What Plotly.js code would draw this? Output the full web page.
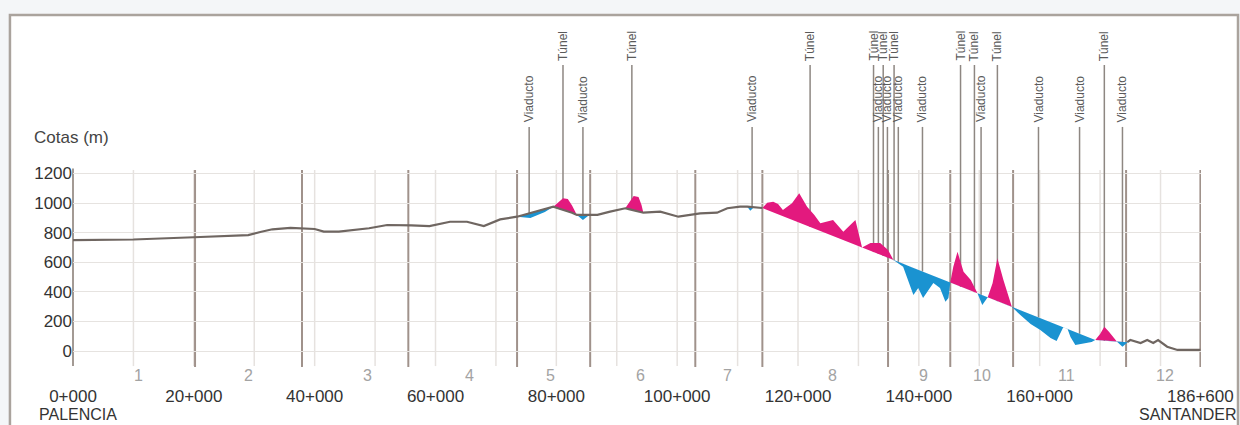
<!DOCTYPE html>
<html><head><meta charset="utf-8">
<script src="https://cdn.plot.ly/plotly-3.0.1.min.js"></script>
<style>html,body{margin:0;padding:0;background:#f4f6f8;} #chart{width:1240px;height:425px;}</style>
</head><body><div id="chart"></div>
<script>
// Chainage (km) of profile samples
const km = [0, 10, 20, 29, 31, 33, 36, 38, 40, 41.5, 44, 49, 52, 56, 59, 62.4, 65.2, 68, 70.7, 73.5, 75.7, 78.1, 79.5, 80.4, 81.1, 81.9, 82.6, 83.4, 84.4, 85.4, 86.8, 88.9, 90.6, 91.4, 92.0, 92.8, 93.6, 94.1, 94.4, 97.2, 100.2, 103.8, 106.6, 108.3, 110.4, 111.6, 112.1, 112.7, 113.4, 114.1, 114.9, 115.9, 116.7, 117.5, 119.0, 120.2, 121.5, 122.7, 123.7, 125.8, 127.5, 129.5, 130.6, 132.0, 133.6, 134.9, 135.8, 137.4, 138.6, 139.1, 139.9, 140.7, 141.6, 142.4, 143.5, 144.4, 144.9, 145.2, 145.7, 146.4, 146.9, 147.4, 148.6, 149.4, 149.7, 150.5, 151.4, 152.2, 153.0, 154.0, 154.8, 155.4, 156.8, 158.5, 160.1, 161.8, 162.8, 163.4, 163.9, 164.6, 165.1, 165.9, 167.5, 168.6, 169.2, 170.0, 170.7, 171.5, 172.8, 173.7, 174.5, 175.0, 176.7, 177.8, 178.8, 179.6, 181.1, 182.8, 186.6];
// Ground elevation (m)
const terreno = [750, 754, 769, 784, 805, 823, 832, 830, 825, 807, 807, 830, 852, 850, 845, 874, 874, 845, 890, 908, 899, 940, 976, 1007, 1032, 1027, 984, 920, 886, 918, 920, 942, 960, 965, 1001, 1048, 1041, 987, 935, 942, 908, 931, 935, 965, 976, 976, 948, 972, 970, 967, 1003, 1009, 994, 953, 999, 1066, 976, 920, 863, 886, 807, 886, 700, 730, 730, 683, 616, 570, 435, 379, 426, 358, 412, 460, 426, 333, 358, 463, 570, 671, 602, 536, 480, 412, 390, 311, 363, 458, 627, 480, 367, 298, 243, 183, 142, 88, 68, 115, 161, 150, 95, 41, 54, 61, 75, 115, 164, 128, 63, 29, 60, 74, 54, 74, 54, 74, 29, 7, 7];
// Track (rasante) elevation (m)
const rasante = [750, 754, 769, 784, 805, 823, 832, 830, 825, 807, 807, 830, 852, 850, 845, 874, 874, 845, 890, 908, 933, 960, 976, 963, 955, 945, 935, 920, 920, 918, 920, 942, 960, 965, 959, 951, 943, 938, 935, 942, 908, 931, 935, 965, 976, 976, 974, 972, 970, 967, 954, 938, 925, 912, 888, 868, 847, 828, 812, 778, 750, 718, 700, 677, 651, 630, 616, 590, 570, 562, 549, 536, 522, 509, 491, 476, 468, 463, 455, 444, 434, 426, 407, 394, 390, 377, 363, 350, 337, 321, 308, 298, 276, 248, 222, 194, 178, 169, 161, 150, 141, 128, 102, 84, 75, 72, 70, 67, 63, 61, 60, 74, 54, 74, 54, 74, 29, 7, 7];

// Structures
const structKm = [75.5, 81.1, 84.4, 92.5, 112.4, 122.0, 132.5, 133.3, 134.1, 134.8, 135.9, 136.6, 140.6, 146.9, 149.2, 150.3, 153.0, 159.8, 166.6, 170.7, 173.7];
const structType = ['Viaducto','Túnel','Viaducto','Túnel','Viaducto','Túnel','Túnel','Viaducto','Túnel','Viaducto','Túnel','Viaducto','Viaducto','Túnel','Túnel','Viaducto','Túnel','Viaducto','Viaducto','Túnel','Viaducto'];

// Section boundaries and section labels
const sectionKm = [20.2, 37.9, 55.5, 73.5, 85.6, 103.0, 114.1, 134.9, 145.2, 155.6, 174.3, 186.6];
const sectionLabelKm = [10.8, 29.1, 48.7, 65.6, 79.0, 94.0, 108.4, 125.7, 140.7, 150.5, 164.4, 180.8];
const sectionLabels = ['1','2','3','4','5','6','7','8','9','10','11','12'];
const gridKm = [10, 20, 30, 40, 50, 60, 70, 80, 90, 100, 110, 120, 130, 140, 150, 160, 170, 180];

// Axis ticks
const tickKm = [0, 20, 40, 60, 80, 100, 120, 140, 160, 186.6];
const tickLabels = ['0+000','20+000','40+000','60+000','80+000','100+000','120+000','140+000','160+000','186+600'];
const endNames = ['PALENCIA', 'SANTANDER'];
const yTicks = [0, 200, 400, 600, 800, 1000, 1200];

// ---- drawing ----
const PINK = '#e3197e', BLUE = '#1a93d1';
const pinkTop = km.map((k, i) => Math.max(terreno[i], rasante[i]));
const blueBot = km.map((k, i) => Math.min(terreno[i], rasante[i]));
const grayLine = km.map((k, i) => (k > 114.1 && k < 174.5) ? null : rasante[i]);

function trackAt(k) {
  for (let i = 0; i < km.length - 1; i++) {
    if (k >= km[i] && k <= km[i + 1]) {
      const t = (k - km[i]) / (km[i + 1] - km[i]);
      return rasante[i] + t * (rasante[i + 1] - rasante[i]);
    }
  }
  return rasante[rasante.length - 1];
}

const base = {x: km, mode: 'lines', hoverinfo: 'skip', showlegend: false};
const traces = [
  Object.assign({}, base, {y: rasante, line: {width: 0}}),
  Object.assign({}, base, {y: pinkTop, line: {width: 0, color: PINK}, fill: 'tonexty', fillcolor: PINK}),
  Object.assign({}, base, {y: rasante, line: {width: 0}}),
  Object.assign({}, base, {y: blueBot, line: {width: 0, color: BLUE}, fill: 'tonexty', fillcolor: BLUE}),
  Object.assign({}, base, {y: grayLine, line: {width: 2.2, color: '#6f6661'}, connectgaps: false})
];

const YTOP = 1224, YBOT = -108;
const shapes = [];
// outer frame
shapes.push({type: 'rect', xref: 'paper', yref: 'paper', x0: -0.0559, x1: 1.0328, y0: -0.2, y1: 1.0202,
  line: {color: '#aaa39d', width: 2.5}, fillcolor: '#ffffff', layer: 'below'});
// light 10 km grid
gridKm.forEach(k => shapes.push({type: 'line', xref: 'x', yref: 'y', x0: k, x1: k, y0: YBOT + 6, y1: YTOP,
  line: {color: '#e6e2df', width: 1.5}, layer: 'below'}));
// section boundaries
sectionKm.forEach(k => shapes.push({type: 'line', xref: 'x', yref: 'y', x0: k, x1: k, y0: YBOT, y1: YTOP,
  line: {color: '#a0928b', width: 2}, layer: 'below'}));
// y axis line
shapes.push({type: 'line', xref: 'paper', yref: 'y', x0: 0, x1: 0, y0: YBOT + 6, y1: YTOP + 10,
  line: {color: '#a39a94', width: 2}, layer: 'below'});
// structure leader lines
structKm.forEach((k, i) => shapes.push({type: 'line', xref: 'x', yref: 'y', x0: k, x1: k,
  y0: trackAt(k), y1: structType[i] === 'Túnel' ? 1934 : 1515,
  line: {color: '#8e8782', width: 1.5}, layer: 'between'}));

const annotations = [];
annotations.push({xref: 'paper', yref: 'paper', x: -0.0364, y: 0.6676, xanchor: 'left', yanchor: 'middle',
  text: 'Cotas (m)', showarrow: false, font: {size: 17, color: '#444444'}});
sectionLabelKm.forEach((k, i) => annotations.push({xref: 'x', yref: 'paper', x: k, y: -0.0231,
  xanchor: 'center', yanchor: 'middle', text: sectionLabels[i], showarrow: false,
  font: {size: 16, color: '#a3a3a3'}}));
structKm.forEach((k, i) => annotations.push({xref: 'x', yref: 'y', x: k,
  y: structType[i] === 'Túnel' ? 2062 : 1704, text: structType[i], textangle: -90, showarrow: false,
  xanchor: 'center', yanchor: 'middle', font: {size: 12, color: '#5a5a5a'}}));
// end station names under first / last chainage
annotations.push({xref: 'paper', yref: 'paper', x: 0.0044, y: -0.162, xanchor: 'center', yanchor: 'bottom',
  text: endNames[0], showarrow: false, borderpad: 0, font: {size: 16, color: '#333333'}});
annotations.push({xref: 'paper', yref: 'paper', x: 1.0325, y: -0.162, xanchor: 'right', yanchor: 'bottom',
  text: endNames[1], showarrow: false, borderpad: 0, font: {size: 16, color: '#333333'}});

const layout = {
  width: 1240, height: 425,
  margin: {l: 73, r: 39, t: 22, b: 57, pad: 0},
  paper_bgcolor: '#f4f6f8', plot_bgcolor: 'rgba(0,0,0,0)',
  showlegend: false,
  font: {family: 'Liberation Sans, Arial, sans-serif', color: '#444', size: 17},
  xaxis: {range: [0, 186.7], tickmode: 'array', tickvals: tickKm, ticktext: tickLabels, showgrid: false,
    zeroline: false, showline: false, ticks: '', tickfont: {size: 17, color: '#333333'},
    ticklabelstandoff: 16, ticklabeloverflow: 'allow', fixedrange: true},
  yaxis: {range: [-114.9, 2224.5], tickmode: 'array', tickvals: yTicks, showgrid: true, gridcolor: '#e6e3e0',
    gridwidth: 1, zeroline: false, showline: false, ticks: '', tickfont: {size: 17, color: '#333333'},
    fixedrange: true},
  shapes: shapes,
  annotations: annotations
};

Plotly.newPlot('chart', traces, layout, {displayModeBar: false, staticPlot: true});
</script>
</body></html>
